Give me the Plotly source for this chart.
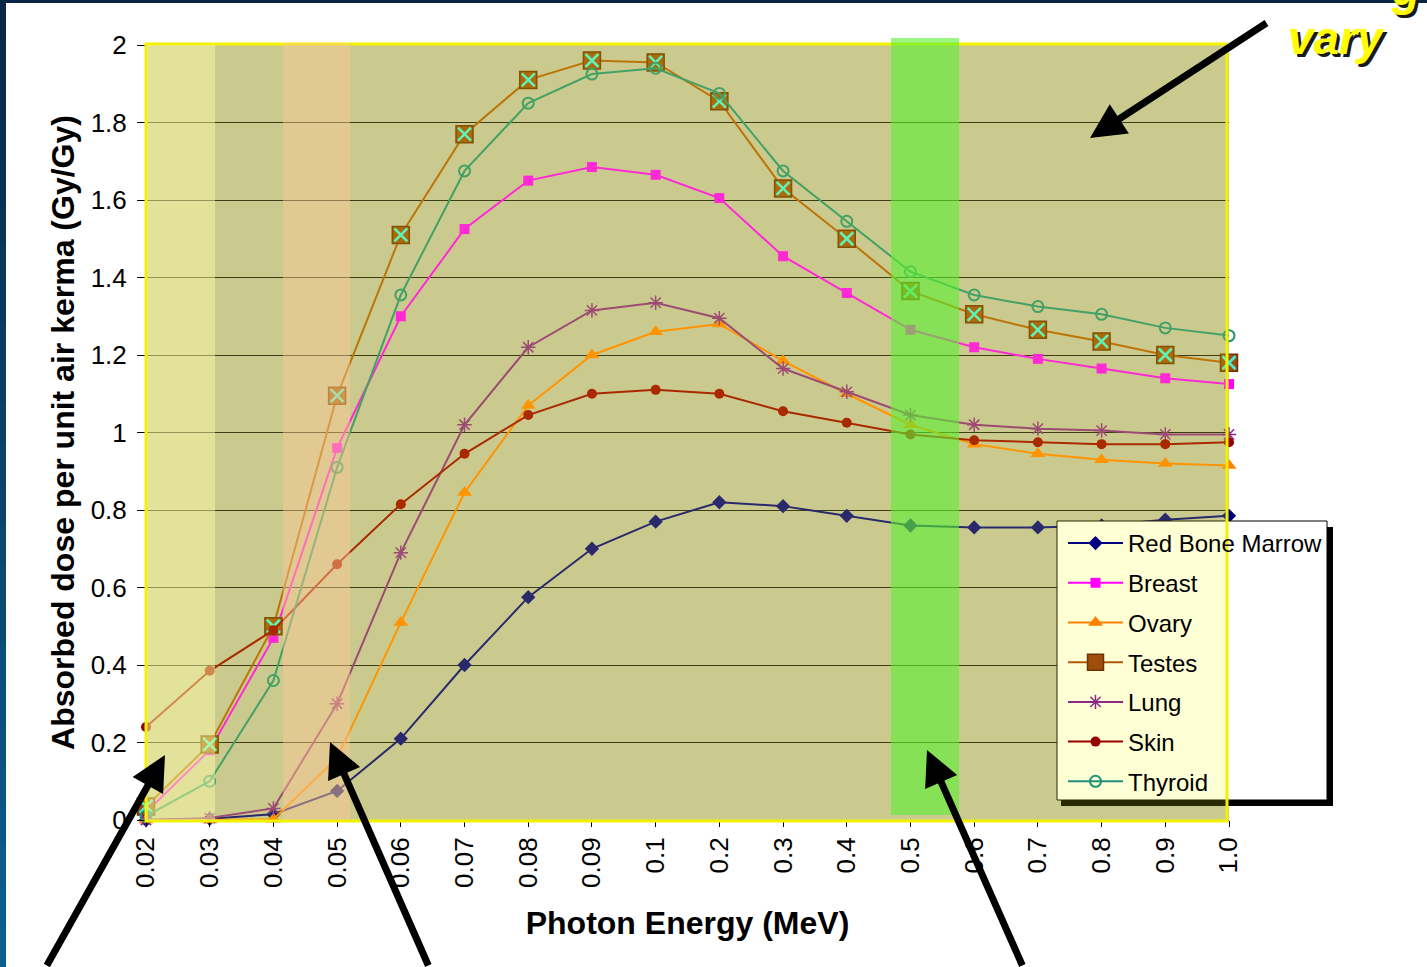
import plotly.graph_objects as go

# ---------------- data ----------------
energy = ["0.02", "0.03", "0.04", "0.05", "0.06", "0.07", "0.08", "0.09", "0.1",
          "0.2", "0.3", "0.4", "0.5", "0.6", "0.7", "0.8", "0.9", "1.0"]

red_bone_marrow = [0.0, 0.003, 0.015, 0.075, 0.21, 0.40, 0.575, 0.70, 0.77,
                   0.82, 0.81, 0.785, 0.76, 0.755, 0.755, 0.76, 0.775, 0.785]
breast = [0.02, 0.18, 0.47, 0.96, 1.30, 1.525, 1.65, 1.685, 1.665,
          1.605, 1.455, 1.36, 1.265, 1.22, 1.19, 1.165, 1.14, 1.125]
ovary = [0.0, 0.0, 0.002, 0.16, 0.51, 0.845, 1.07, 1.20, 1.26,
         1.28, 1.185, 1.10, 1.02, 0.97, 0.945, 0.93, 0.92, 0.915]
testes = [0.035, 0.195, 0.50, 1.095, 1.51, 1.77, 1.91, 1.96, 1.955,
          1.855, 1.63, 1.50, 1.365, 1.305, 1.265, 1.235, 1.20, 1.18]
lung = [0.0, 0.005, 0.03, 0.30, 0.69, 1.02, 1.22, 1.315, 1.335,
        1.295, 1.165, 1.105, 1.045, 1.02, 1.01, 1.005, 0.995, 0.995]
skin = [0.24, 0.385, 0.49, 0.66, 0.815, 0.945, 1.045, 1.10, 1.11,
        1.10, 1.055, 1.025, 0.995, 0.98, 0.975, 0.97, 0.97, 0.975]
thyroid = [0.01, 0.10, 0.36, 0.91, 1.355, 1.675, 1.85, 1.925, 1.94,
           1.875, 1.675, 1.545, 1.415, 1.355, 1.325, 1.305, 1.27, 1.25]

y_ticks = [0, 0.2, 0.4, 0.6, 0.8, 1, 1.2, 1.4, 1.6, 1.8, 2]

# ---------------- geometry helpers ----------------
W, H = 1427, 967
L, R, T, B = 146, 1229, 45, 820


def px(x):
    return (x - L) / (R - L)


def py(y):
    return (B - y) / (B - T)


FONT = "Liberation Sans, Arial, sans-serif"

series = [
    ("Red Bone Marrow", red_bone_marrow, "#000080", dict(symbol="diamond", size=11, color="#000080")),
    ("Breast", breast, "#FF00FF", dict(symbol="square", size=10, color="#FF00FF")),
    ("Ovary", ovary, "#FF8000", dict(symbol="triangle-up", size=13, color="#FF8000")),
    ("Testes", testes, "#B05A0A", dict(symbol="square", size=17, color="#9E4E0A",
                                        line=dict(color="#6E3204", width=1.5))),
    ("Lung", lung, "#8A2A88", dict(symbol="asterisk-open", size=12, color="#8A2A88",
                                    line=dict(color="#8A2A88", width=1.5))),
    ("Skin", skin, "#990000", dict(symbol="circle", size=10, color="#990000")),
    ("Thyroid", thyroid, "#1F907A", dict(symbol="circle-open", size=11, color="#1F907A",
                                          line=dict(color="#1F907A", width=2))),
]

fig = go.Figure()
for name, vals, col, mk in series:
    fig.add_trace(go.Scatter(
        x=energy, y=vals, name=name, mode="lines+markers",
        line=dict(color=col, width=2), marker=mk,
        legendgroup=name, cliponaxis=False,
    ))
    if name == "Testes":
        fig.add_trace(go.Scatter(
            x=energy, y=vals, mode="markers", showlegend=False, legendgroup=name,
            marker=dict(symbol="x-thin-open", size=13, color="#40F0E0",
                        line=dict(color="#40F0E0", width=2.5)),
            cliponaxis=False, hoverinfo="skip",
        ))

shapes = []
# page border (top strip and left gradient strip)
shapes.append(dict(type="rect", xref="paper", yref="paper", x0=px(0), x1=px(W),
                   y0=py(3), y1=py(-2), fillcolor="#0B2545", line=dict(width=0), layer="above"))
n_seg = 24
for i in range(n_seg):
    t = i / (n_seg - 1)
    g = int(40 + t * 55)
    b = int(70 + t * 75)
    y0 = i * H / n_seg
    y1 = (i + 1) * H / n_seg
    shapes.append(dict(type="rect", xref="paper", yref="paper", x0=px(-1), x1=px(6),
                       y0=py(y1 + 1), y1=py(y0), fillcolor=f"rgb(10,{g},{b})",
                       line=dict(width=0), layer="above"))

# legend shadow and box
shapes.append(dict(type="rect", xref="paper", yref="paper", x0=px(1061), x1=px(1333),
                   y0=py(806), y1=py(527), fillcolor="#000000", line=dict(width=0), layer="above"))
shapes.append(dict(type="rect", xref="paper", yref="paper", x0=px(1057), x1=px(1327),
                   y0=py(800), y1=py(521), fillcolor="#FFFFFF", line=dict(color="#000000", width=1),
                   layer="above"))
# yellow overlay over plot area
shapes.append(dict(type="rect", xref="paper", yref="paper", x0=px(146), x1=px(1227),
                   y0=py(821), y1=py(44), fillcolor="rgba(255,255,0,0.16)",
                   line=dict(color="#F2F200", width=3), layer="above"))
# highlight bands
shapes.append(dict(type="rect", xref="paper", yref="paper", x0=px(147), x1=px(215),
                   y0=py(820), y1=py(45), fillcolor="rgba(255,255,170,0.45)",
                   line=dict(width=0), layer="above"))
shapes.append(dict(type="rect", xref="paper", yref="paper", x0=px(283), x1=px(350),
                   y0=py(820), y1=py(43), fillcolor="rgba(255,200,150,0.45)",
                   line=dict(width=0), layer="above"))
shapes.append(dict(type="rect", xref="paper", yref="paper", x0=px(891), x1=px(959),
                   y0=py(815), y1=py(38), fillcolor="rgba(90,240,50,0.6)",
                   line=dict(width=0), layer="above"))

annotations = []
arrows = [((165, 755), (-119, 222)), ((330, 742), (99, 235)),
          ((927, 750), (96, 225)), ((1090, 138), (178, -116))]
for (hx, hy), (ax, ay) in arrows:
    annotations.append(dict(x=px(hx), y=py(hy), xref="paper", yref="paper", text="",
                            showarrow=True, ax=ax, ay=ay, arrowhead=2, arrowsize=1.0,
                            arrowwidth=7, arrowcolor="#000000", standoff=0))

for dx, dy, col in [(3, 3, "#1A1A1A"), (0, 0, "#FFFF00")]:
    annotations.append(dict(x=px(1336 + dx), y=py(38 + dy), xref="paper", yref="paper",
                            xanchor="center", yanchor="middle",
                            text="<b><i>vary</i></b>", showarrow=False,
                            font=dict(family=FONT, size=46, color=col)))
    annotations.append(dict(x=px(1405 + dx), y=py(-11 + dy), xref="paper", yref="paper",
                            xanchor="center", yanchor="middle",
                            text="<b><i>g</i></b>", showarrow=False,
                            font=dict(family=FONT, size=46, color=col)))

fig.update_layout(
    width=W, height=H,
    margin=dict(l=L, r=W - R, t=T, b=H - B, pad=0),
    paper_bgcolor="#FFFFFF",
    plot_bgcolor="#C2C0AA",
    font=dict(family=FONT, color="#000000"),
    showlegend=True,
    legend=dict(x=px(1063), y=py(521), xanchor="left", yanchor="top",
                bgcolor="rgba(0,0,0,0)", borderwidth=0,
                font=dict(family=FONT, size=24, color="#000000"),
                itemwidth=55, traceorder="grouped", tracegroupgap=5.5),
    shapes=shapes,
    annotations=annotations,
    xaxis=dict(
        type="category", categoryorder="array", categoryarray=energy,
        range=[0, len(energy) - 1], tickangle=-90,
        tickfont=dict(family=FONT, size=26, color="#000000"),
        ticks="outside", ticklen=6, tickcolor="#000000",
        showgrid=False, showline=True, linecolor="#444444", zeroline=False,
        title=dict(text="<b>Photon Energy (MeV)</b>", standoff=24,
                   font=dict(family=FONT, size=32, color="#000000")),
    ),
    yaxis=dict(
        range=[0, 2], tickvals=y_ticks,
        tickfont=dict(family=FONT, size=26, color="#000000"),
        ticks="outside", ticklen=8, tickcolor="#000000", ticklabelstandoff=5,
        showgrid=True, gridcolor="#1A1A1A", gridwidth=1,
        showline=True, linecolor="#444444", zeroline=False,
        title=dict(text="<b>Absorbed dose per unit air kerma (Gy/Gy)</b>", standoff=6,
                   font=dict(family=FONT, size=32, color="#000000")),
    ),
)

fig.write_html(
    "out.html",
    config={"displayModeBar": False},
    post_script="document.body.style.margin='0px';document.body.style.padding='0px';"
                "document.body.style.overflow='hidden';",
)
